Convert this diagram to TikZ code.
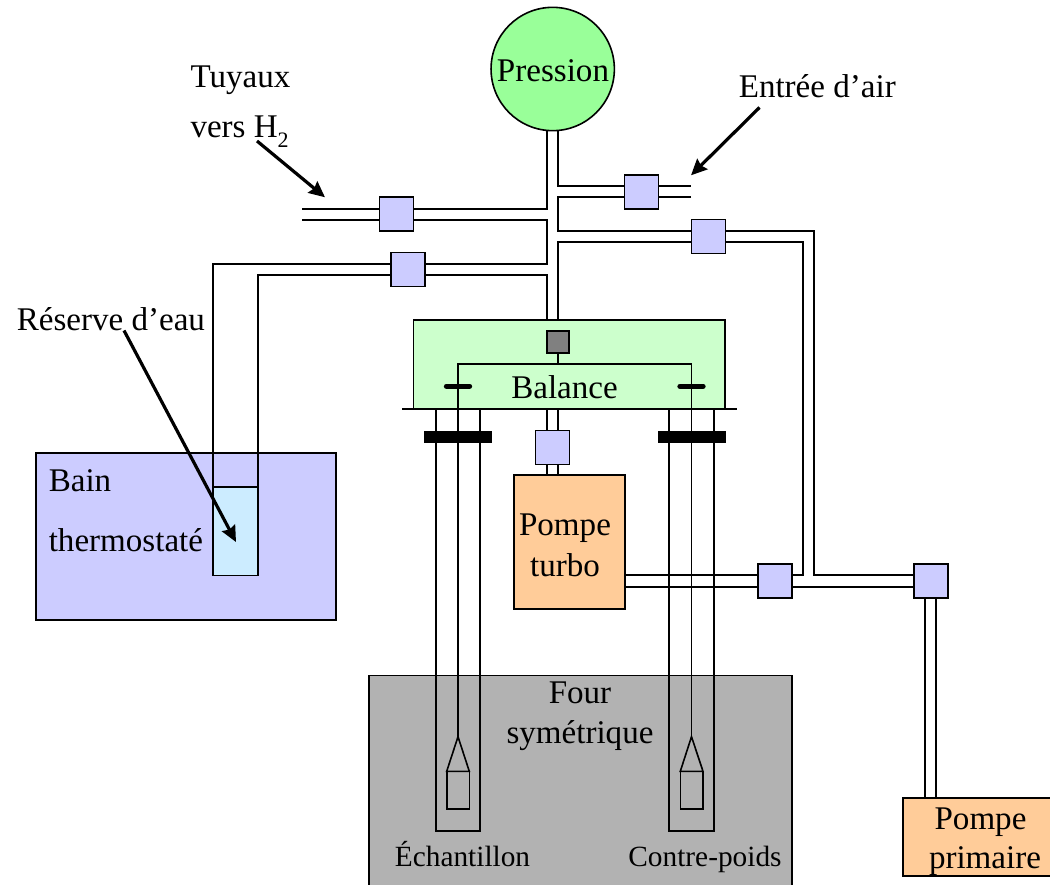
\documentclass[tikz,border=0pt]{standalone}
\usepackage{fontspec}
\setmainfont{Liberation Serif}
\usetikzlibrary{arrows.meta}
\definecolor{vannecol}{RGB}{204,204,255}
\definecolor{balancecol}{RGB}{204,255,204}
\definecolor{pressioncol}{RGB}{153,255,153}
\definecolor{pompecol}{RGB}{255,204,153}
\definecolor{eaucol}{RGB}{204,236,255}
\definecolor{fourcol}{RGB}{178,178,178}
\definecolor{capteurcol}{RGB}{128,128,128}
\tikzset{every picture/.style={line width=1.2pt}}
\tikzset{
  vanne/.style={draw,fill=vannecol,minimum size=25.5pt,inner sep=0pt},
  bloc/.style={draw,line width=1.1pt},
  fleche/.style={line width=2.4pt,-{Stealth[length=12pt,width=11pt,inset=1.5pt]}},
  grand/.style={font=\fontsize{24.8}{30}\selectfont,inner sep=0pt},
  petit/.style={font=\fontsize{22}{26}\selectfont,inner sep=0pt},
}

\begin{document}
\begin{tikzpicture}[x=0.75pt,y=0.75pt,yscale=-1,xscale=1]
\useasboundingbox (0,0) rectangle (1050,885);

%Shape: Rectangle Bain
\draw [bloc,fill=vannecol] (36,453) rectangle (336,620);
%Shape: Rectangle Four
\draw [bloc,fill=fourcol] (369,675.5) rectangle (792,890);
%Shape: Rectangle Balance
\draw [bloc,fill=balancecol] (413.5,320) rectangle (725,409);
%Shape: Rectangle Eau
\draw [fill=eaucol] (213,486.7) rectangle (258,575.5);
%Shape: Rectangle Pompe turbo
\draw [bloc,fill=pompecol] (514,475) rectangle (625,609);
%Shape: Rectangle Pompe primaire
\draw [bloc,fill=pompecol] (903,798) rectangle (1056,876);
%Shape: Circle Pression
\node [circle,draw,fill=pressioncol,minimum size=92.5pt,inner sep=0pt] (pression) at (552.7,69) {};

%Straight Lines tuyaux centre gauche
\draw (547,130) -- (547,209) -- (302,209);
\draw (302,220) -- (547,220) -- (547,264) -- (213,264) -- (213,486.7);
\draw (258,486.7) -- (258,275) -- (547,275) -- (547,320);
%Straight Lines tuyaux centre droite
\draw (558,130) -- (558,186) -- (691,186);
\draw (691,197) -- (558,197) -- (558,231) -- (814,231) -- (814,575) -- (914,575);
\draw (558,320) -- (558,242) -- (803,242) -- (803,575) -- (758,575);
%Straight Lines pompe turbo
\draw (625,575) -- (758,575);
\draw (625,587) -- (914,587);
\draw (547,409) -- (547,475);
\draw (558,409) -- (558,475);
%Straight Lines pompe primaire
\draw (925,598) -- (925,798);
\draw (936,598) -- (936,798);

%Straight Lines socle
\draw (402,409) -- (737,409);
%Straight Lines tubes
\draw (436,409) -- (436,830.7) -- (480,830.7) -- (480,409);
\draw (669,409) -- (669,830.7) -- (714,830.7) -- (714,409);
%Shape: Rectangle brides
\fill (424,430.7) rectangle (492,442.7);
\fill (657.7,430.7) rectangle (725.7,442.7);

%Straight Lines fleau
\draw (558,353) -- (558,364);
\draw (458,736.7) -- (458,364) -- (691.5,364) -- (691.5,736.7);
\draw [line width=4pt,line cap=round] (446.5,386.3) -- (469.5,386.3);
\draw [line width=4pt,line cap=round] (680,386.3) -- (703,386.3);
%Shape: nacelles
\draw (458,736.7) -- (446.7,771.3) -- (469.3,771.3) -- cycle;
\draw (446.7,771.3) rectangle (469.3,808.7);
\draw (691.5,736.7) -- (680.3,771.3) -- (703,771.3) -- cycle;
\draw (680.3,771.3) rectangle (703,808.7);

%Shape: Square capteur
\node [draw,fill=capteurcol,minimum size=16.5pt,inner sep=0pt] (capteur) at (558,342) {};
%Shape: Square vannes
\node [vanne] (vannehyd) at (396.5,214) {};
\node [vanne] (vanneeau) at (408,269.5) {};
\node [vanne] (vanneair) at (641.5,192) {};
\node [vanne] (vannehaut) at (708.3,236.3) {};
\node [vanne] (vanneturbo) at (552.5,447.5) {};
\node [vanne] (vannesec) at (775,581) {};
\node [vanne] (vanneprim) at (931,581) {};

% Text Node
\node [grand,anchor=base] (txtpression) at (553,81.5) {Pression};
\node [grand,anchor=base west] (txttuyaux) at (189.7,87) {Tuyaux};
\node [grand,anchor=base west] (txtvers) at (189.7,137) {vers H\raisebox{-7.5pt}{\fontsize{16.5}{20}\selectfont 2}};
\node [grand,anchor=base west] (txtentree) at (738,97) {Entrée d’air};
\node [grand,anchor=base west] (txtreserve) at (16,330.7) {Réserve d’eau};
\node [grand,anchor=base west] (txtbain) at (48,491.7) {Bain};
\node [grand,anchor=base west] (txtthermo) at (48,551) {thermostaté};
\node [grand,anchor=base] (txtbalance) at (564.5,398) {Balance};
\node [grand,anchor=base] (txtpompe) at (565,535) {Pompe};
\node [grand,anchor=base] (txtturbo) at (565,576) {turbo};
\node [grand,anchor=base] (txtfour) at (580,703) {Four};
\node [grand,anchor=base] (txtsym) at (580,743) {symétrique};
\node [petit,anchor=base] (txtech) at (462.5,866.5) {Échantillon};
\node [petit,anchor=base] (txtcontre) at (705,866.5) {Contre-poids};
\node [grand,anchor=base] (txtprim) at (980.5,829) {Pompe};
\node [grand,anchor=base] (txtprim2) at (985,868.5) {primaire};

%Straight Lines fleches
\coordinate (debuth) at (257,141);
\coordinate (finh) at (325,197.3);
\coordinate (debutair) at (759.5,107.5);
\coordinate (finair) at (691,175.3);
\coordinate (debuteau) at (124,330.5);
\coordinate (fineau) at (236,542);
\draw [fleche] (debuth) -- (finh);
\draw [fleche] (debutair) -- (finair);
\draw [fleche] (debuteau) -- (fineau);

\end{tikzpicture}
\end{document}
